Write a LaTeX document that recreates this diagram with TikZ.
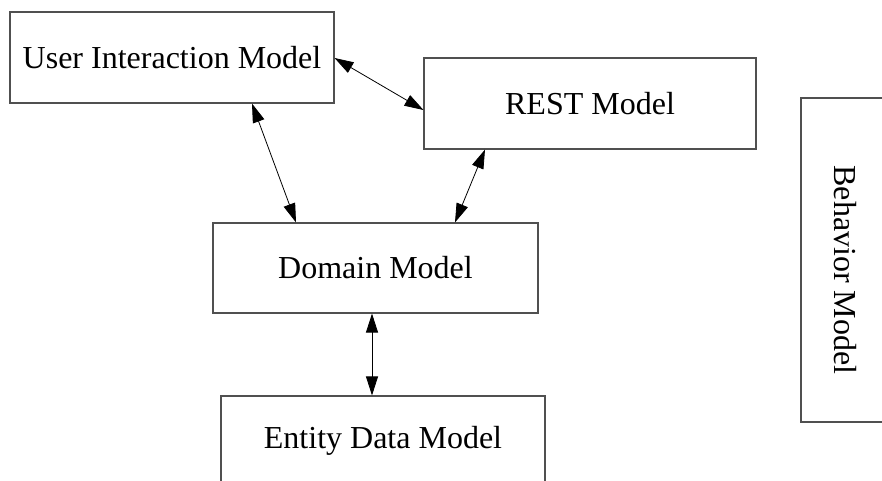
\documentclass[tikz,border=0pt]{standalone}
\usepackage{fontspec}
\setmainfont{Liberation Serif}
\usetikzlibrary{arrows.meta}
\definecolor{boxline}{HTML}{505050}
\tikzset{
  model/.style={draw=boxline, line width=1.1pt, fill=white, inner sep=0pt,
    font=\fontsize{32}{38}\selectfont},
  link/.style={draw=black, line width=0.8pt,
    {Triangle[length=19pt,width=12pt]}-{Triangle[length=19pt,width=12pt]}}
}
\begin{document}
\begin{tikzpicture}[x=1pt,y=-1pt]
  \useasboundingbox (0,0) rectangle (882,481);
  \clip (0,0) rectangle (882,481);

  % model boxes
  \node[model, minimum width=324pt, minimum height=91pt] (uim) at (172,57.5) {User Interaction Model};
  \node[model, minimum width=332pt, minimum height=91pt] (rest) at (590,103.5) {REST Model};
  \node[model, minimum width=325pt, minimum height=90pt] (dom) at (375.5,268) {Domain Model};
  \node[model, minimum width=324pt, minimum height=90pt] (ent) at (383,441) {Entity Data Model};
  \node[model, minimum width=90pt, minimum height=324pt] (beh) at (846,260) {};
  \node[font=\fontsize{32}{38}\selectfont, rotate=-90] (behtxt) at (845,270) {Behavior Model};

  % connectors between models
  \draw[link] ([yshift=-0.5pt]uim.east) -- ([yshift=-6.5pt]rest.west);
  \draw[link] ([xshift=80pt]uim.south) -- ([xshift=-79.5pt]dom.north);
  \draw[link] ([xshift=-105pt]rest.south) -- ([xshift=79.5pt]dom.north);
  \draw[link] ([xshift=-3.5pt]dom.south) -- ([xshift=-11pt]ent.north);
\end{tikzpicture}
\end{document}
